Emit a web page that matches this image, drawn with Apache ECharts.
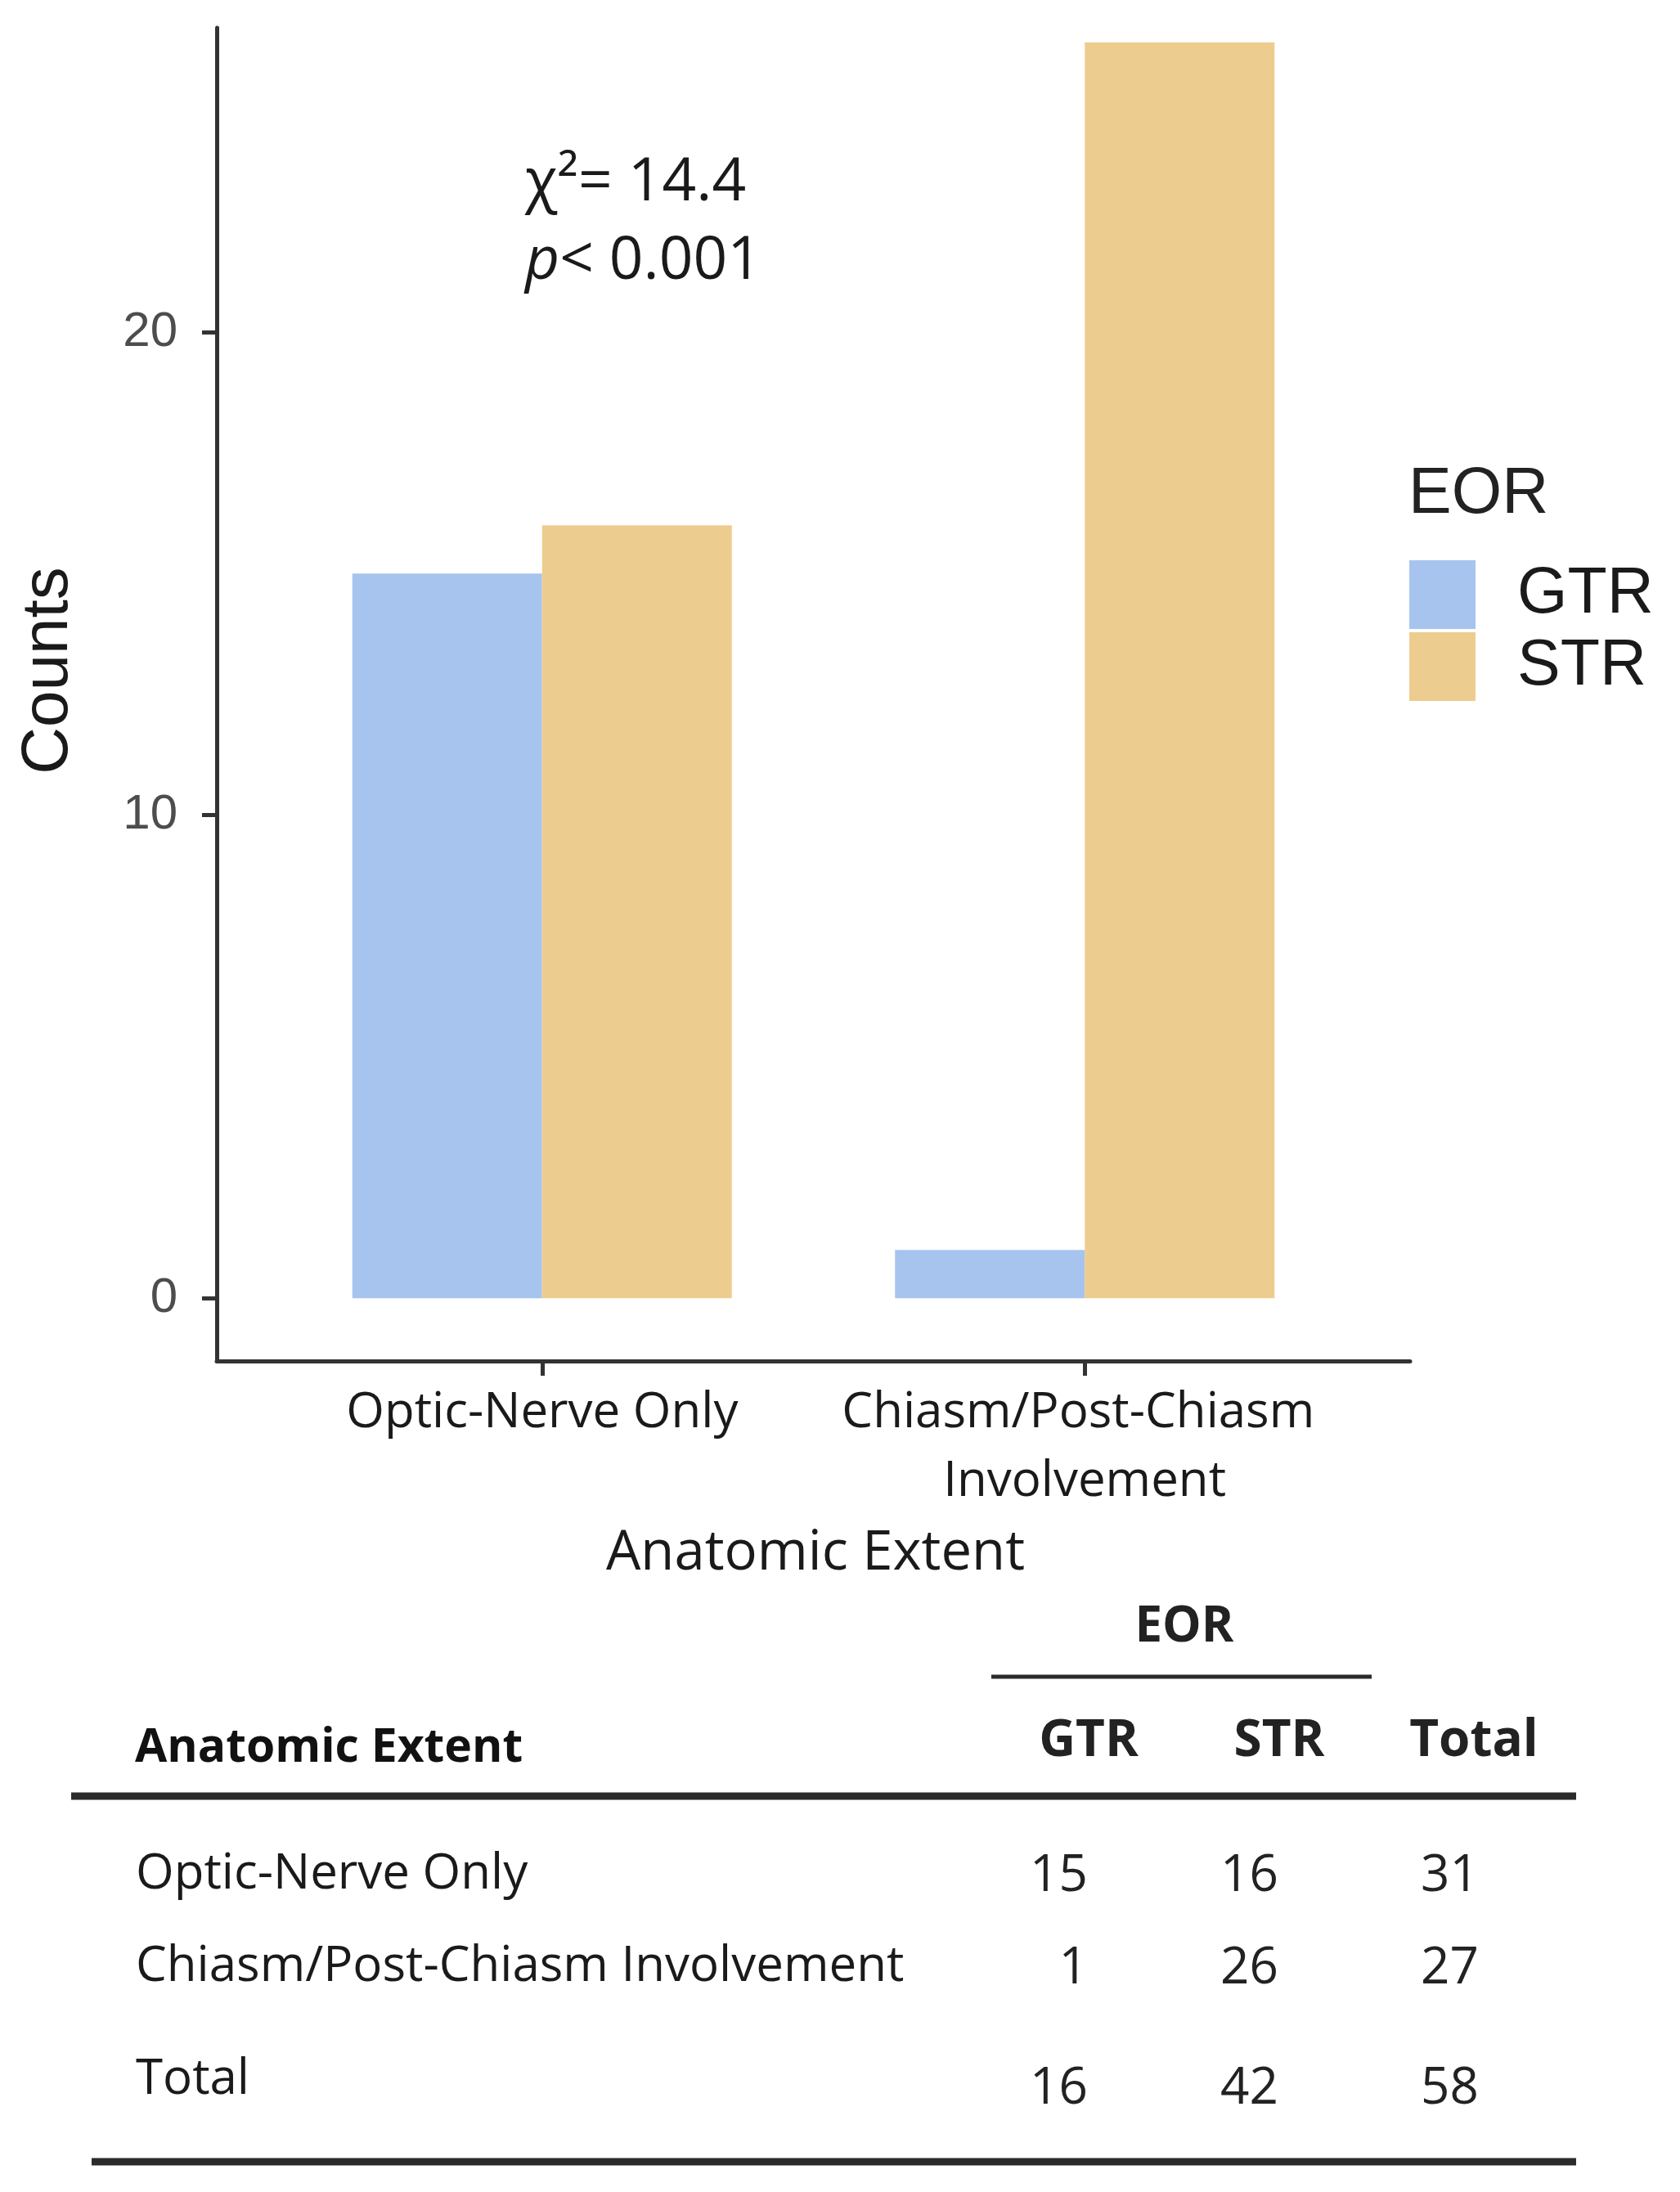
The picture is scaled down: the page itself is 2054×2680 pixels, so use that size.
<!DOCTYPE html>
<html>
<head>
<meta charset="utf-8">
<title>EOR by anatomic extent</title>
<script src="https://cdn.jsdelivr.net/npm/echarts@6/dist/echarts.min.js"></script>
<style>
  html, body { margin: 0; padding: 0; background: #fff; }
  #chart { width: 2054px; height: 2680px; }
</style>
</head>
<body>
<div id="chart"></div>
<script>
// data
var categories = ['Optic-Nerve Only', 'Chiasm/Post-Chiasm Involvement'];
var eorGroups = ['GTR', 'STR'];
var gtrCounts = [15, 1];
var strCounts = [16, 26];
var yTicks = [0, 10, 20];
var chiSquare = '14.4';
var pValue = '< 0.001';
var tableHeader = ['GTR', 'STR', 'Total'];

var axisColor = '#333';
var dark = '#1a1a1a';

// table rows: categories + total row
var rowNames = categories.concat(['Total']);
var rowVals = [];
for (var i = 0; i < categories.length; i++) {
    rowVals.push([gtrCounts[i], strCounts[i], gtrCounts[i] + strCounts[i]]);
}
var colSum = [0, 0, 0];
rowVals.forEach(function (r) { r.forEach(function (v, j) { colSum[j] += v; }); });
rowVals.push(colSum);

var graphics = [];

function txt(x, y, text, size, opts) {
    opts = opts || {};
    graphics.push({
        type: 'text', x: x, y: y, rotation: opts.rotation || 0, silent: true,
        style: {
            text: text,
            fontSize: size,
            fontFamily: opts.family || 'Open Sans',
            fontWeight: opts.weight || 'normal',
            fontStyle: opts.style || 'normal',
            fill: opts.color || dark,
            align: opts.align || 'left',
            verticalAlign: 'middle',
            rich: opts.rich
        }
    });
}
function hline(x1, x2, y, w) {
    graphics.push({
        type: 'line', silent: true,
        shape: { x1: x1, y1: y, x2: x2, y2: y },
        style: { stroke: '#2b2b2b', lineWidth: w }
    });
}

// annotation
txt(642, 224, 'χ²= ' + chiSquare, 73);
txt(642, 320, '{i|p}{n|' + pValue + '}', 73, {
    rich: {
        i: { fontSize: 73, fontStyle: 'italic', fontFamily: 'Open Sans', fill: dark },
        n: { fontSize: 73, fontFamily: 'Open Sans', fill: dark }
    }
});

// axis titles + legend title
txt(60, 820, 'Counts', 80, { family: 'Liberation Sans', align: 'center', rotation: Math.PI / 2 });
txt(997, 1900, 'Anatomic Extent', 67, { align: 'center' });
txt(1722, 605, 'EOR', 79, { family: 'Liberation Sans', color: '#222' });

// contingency table
var colCenter = [1331, 1564, 1802];
var colRight = [1330, 1563, 1808];
var labelY = [2292, 2405, 2543];
var numY = [2294, 2407, 2554];
txt(1448, 1990, 'EOR', 60, { weight: 'bold', align: 'center', color: '#222' });
hline(1212, 1677, 2050, 5);
txt(165, 2138, 'Anatomic Extent', 57, { weight: 'bold', color: '#111' });
tableHeader.forEach(function (h, j) {
    txt(colCenter[j], 2129, h, 62, { weight: 'bold', align: 'center', color: '#222' });
});
hline(87, 1927, 2196, 9);
rowNames.forEach(function (name, r) {
    txt(166, labelY[r], name, 60, { color: '#1a1a1a' });
    rowVals[r].forEach(function (v, j) {
        txt(colRight[j], numY[r], String(v), 62, { align: 'right', color: '#222' });
    });
});
hline(112, 1927, 2643, 9);

var chart = echarts.init(document.getElementById('chart'));
var option = {
    backgroundColor: '#ffffff',
    animation: false,
    grid: [
        { left: 265, right: 330, top: 34, bottom: 1016 },
        { left: 331, right: 396, top: 34, bottom: 1016 }
    ],
    xAxis: [
        {
            gridIndex: 0, type: 'value', min: 0.4, max: 2.6,
            splitLine: { show: false },
            axisLine: { show: true, onZero: false, lineStyle: { color: axisColor, width: 5 } },
            axisTick: { show: true, customValues: [1, 2], length: 18, lineStyle: { color: axisColor, width: 5 } },
            axisLabel: {
                customValues: [1, 2],
                formatter: function (v) { return categories[Math.round(v) - 1]; },
                fontFamily: 'Open Sans', fontSize: 60, color: dark,
                margin: 22, lineHeight: 84, width: 660, overflow: 'break'
            }
        },
        { gridIndex: 1, type: 'category', data: categories, show: false }
    ],
    yAxis: [
        {
            gridIndex: 0, type: 'value', min: -1.3, max: 26.3,
            splitLine: { show: false },
            axisLine: { show: true, onZero: false, lineStyle: { color: axisColor, width: 5 } },
            axisTick: { show: true, customValues: yTicks, length: 18, lineStyle: { color: axisColor, width: 5 } },
            axisLabel: {
                customValues: yTicks,
                fontFamily: 'Liberation Sans', fontSize: 60, color: '#4d4d4d', margin: 48
            }
        },
        { gridIndex: 1, type: 'value', min: -1.3, max: 26.3, show: false }
    ],
    legend: {
        data: eorGroups,
        orient: 'vertical', left: 1723, top: 685, padding: 0,
        icon: 'rect', itemWidth: 81, itemHeight: 84, itemGap: 4,
        selectedMode: false,
        textStyle: { fontFamily: 'Liberation Sans', fontSize: 79, color: dark, padding: [0, 0, 0, 46] }
    },
    series: [
        {
            name: eorGroups[0], type: 'bar', xAxisIndex: 1, yAxisIndex: 1,
            data: gtrCounts, barWidth: 232, barGap: '0%',
            itemStyle: { color: '#A6C4EE' }, emphasis: { disabled: true }
        },
        {
            name: eorGroups[1], type: 'bar', xAxisIndex: 1, yAxisIndex: 1,
            data: strCounts, barWidth: 232, barGap: '0%',
            itemStyle: { color: '#EDCD8F' }, emphasis: { disabled: true }
        }
    ],
    graphic: graphics
};
chart.setOption(option);
</script>
</body>
</html>
